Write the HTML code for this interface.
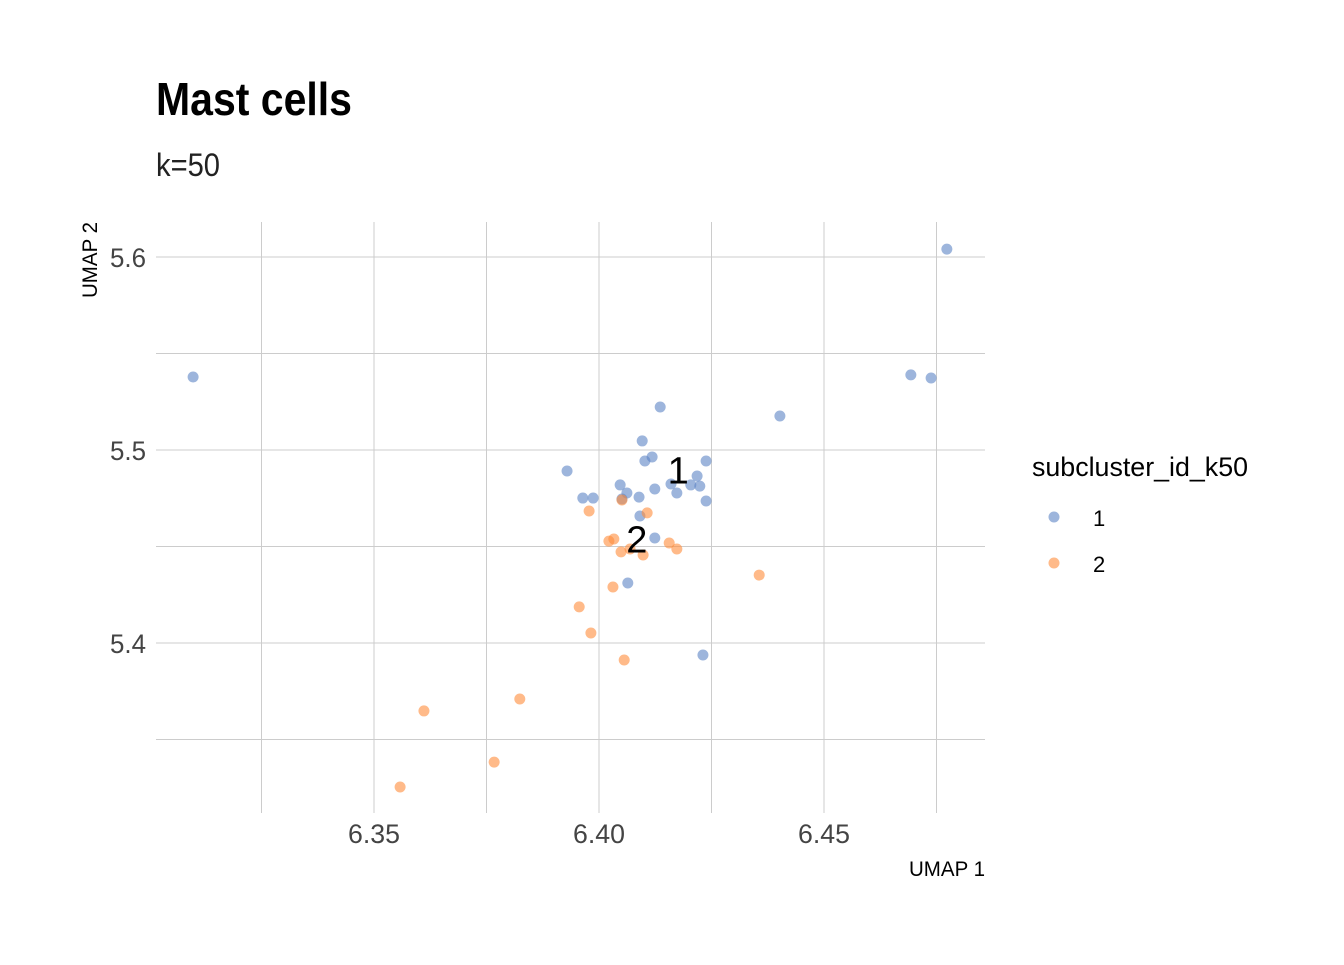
<!DOCTYPE html>
<html><head><meta charset="utf-8"><style>
body{margin:0;background:#fff}
svg text{font-family:"Liberation Sans Narrow","Liberation Sans",sans-serif}
</style></head><body>
<svg id="c" width="1344" height="960" xmlns="http://www.w3.org/2000/svg">
<text x="156" y="115" font-size="46" font-weight="bold" fill="#000" textLength="196" lengthAdjust="spacingAndGlyphs">Mast cells</text>
<text x="156" y="176" font-size="32" fill="#222" textLength="64" lengthAdjust="spacingAndGlyphs">k=50</text>
<g id="grid"></g>
<g id="pts"></g>
<g id="ticks"></g>
<text x="985" y="876" font-size="21" text-anchor="end" fill="#000" textLength="76" lengthAdjust="spacingAndGlyphs">UMAP 1</text>
<text transform="translate(97,222) rotate(-90)" font-size="21" text-anchor="end" fill="#000" textLength="76" lengthAdjust="spacingAndGlyphs">UMAP 2</text>
<text x="1032" y="476" font-size="27" fill="#000" textLength="216" lengthAdjust="spacingAndGlyphs">subcluster_id_k50</text>
<g><circle cx="1054" cy="517" r="5.5" fill="#5b84c4" fill-opacity="0.6"/><text x="1093" y="526" font-size="22">1</text></g>
<g><circle cx="1054" cy="563" r="5.5" fill="#ff8c3a" fill-opacity="0.6"/><text x="1093" y="572" font-size="22">2</text></g>
</svg>
<script>
const xTicks=[6.35,6.40,6.45];
const xTickLabels=["6.35","6.40","6.45"];
const xMinor=[6.325,6.375,6.425,6.475];
const yTicks=[5.4,5.5,5.6];
const yTickLabels=["5.4","5.5","5.6"];
const yMinor=[5.35,5.45,5.55];
const c1x=[6.4136,6.4096,6.4118,6.4102,6.4238,6.3929,6.4218,6.4160,6.4204,6.4224,6.4047,6.4062,6.4124,6.4173,6.3964,6.3987,6.4089,6.4238,6.4051,6.4091,6.4124,6.4064,6.4231,6.4402,6.4693,6.4738,6.4773,6.3098];
const c1y=[5.5223,5.5047,5.4964,5.4943,5.4943,5.4891,5.4865,5.4824,5.4819,5.4813,5.4819,5.4777,5.4798,5.4777,5.4751,5.4751,5.4756,5.4736,5.4746,5.4658,5.4544,5.4311,5.3938,5.5176,5.5389,5.5373,5.6041,5.5378];
const c2x=[6.4051,6.3978,6.4107,6.4022,6.4033,6.4049,6.4069,6.4098,6.4156,6.4173,6.4031,6.3956,6.3982,6.4056,6.4356,6.3824,6.3611,6.3767,6.3558];
const c2y=[5.4741,5.4684,5.4674,5.4528,5.4539,5.4472,5.4487,5.4456,5.4518,5.4487,5.4290,5.4187,5.4052,5.3912,5.4352,5.3710,5.3648,5.3383,5.3254];
const labels=["1","2"];
const labelX=[6.4176,6.4084];
const labelY=[5.4895,5.4535];
const X=v=>599+(v-6.40)*4500, Y=v=>450-(v-5.5)*1930;
const NS="http://www.w3.org/2000/svg";
const mk=(p,t,a)=>{const e=document.createElementNS(NS,t);for(const k in a)e.setAttribute(k,a[k]);p.appendChild(e);return e;};
const g=document.getElementById('grid'),pg=document.getElementById('pts'),tg=document.getElementById('ticks');
[...xTicks,...xMinor].forEach(v=>{const l=mk(g,'line',{x1:X(v),x2:X(v),y1:222,y2:813,stroke:'#cccccc','stroke-width':1});

});
[...yTicks,...yMinor].forEach(v=>{const l=mk(g,'line',{x1:156,x2:985,y1:Y(v),y2:Y(v),stroke:'#cccccc','stroke-width':1});

});
xTicks.forEach((v,i)=>{const t=mk(tg,'text',{x:X(v),y:843,'font-size':27,'text-anchor':'middle',fill:'#444',textLength:52,lengthAdjust:'spacingAndGlyphs'});t.textContent=xTickLabels[i];

});
yTicks.forEach((v,i)=>{const t=mk(tg,'text',{x:146,y:Y(v)+10,'font-size':27,'text-anchor':'end',fill:'#444',textLength:36,lengthAdjust:'spacingAndGlyphs'});t.textContent=yTickLabels[i];

});
c1x.forEach((v,i)=>{const p=mk(pg,'circle',{cx:X(v),cy:Y(c1y[i]),r:5.5,fill:'#5b84c4','fill-opacity':0.6});

});
c2x.forEach((v,i)=>{const p=mk(pg,'circle',{cx:X(v),cy:Y(c2y[i]),r:5.5,fill:'#ff8c3a','fill-opacity':0.6});

});
labels.forEach((s,i)=>{const t=mk(pg,'text',{x:X(labelX[i]),y:Y(labelY[i])+13,'font-size':38,'text-anchor':'middle',fill:'#000'});t.textContent=s;

});
</script>
</body></html>
